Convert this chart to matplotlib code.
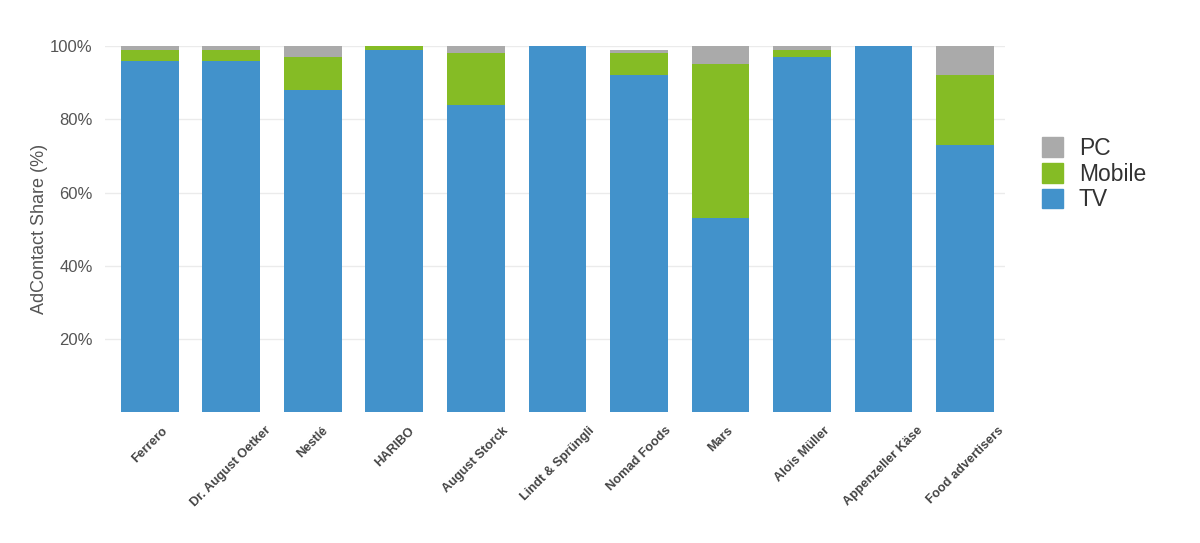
import numpy as np
import matplotlib.pyplot as plt
from matplotlib.patches import Patch

plt.rcParams['font.family'] = ['Liberation Sans', 'DejaVu Sans']

# dados
advertisers = ['Ferrero', 'Dr. August Oetker', 'Nestlé', 'HARIBO', 'August Storck',
               'Lindt & Sprüngli', 'Nomad Foods', 'Mars', 'Alois Müller',
               'Appenzeller Käse', 'Food advertisers']
tv = [96, 96, 88, 99, 84, 100, 92, 53, 97, 100, 73]
mobile = [3, 3, 9, 1, 14, 0, 6, 42, 2, 0, 19]
pc = [1, 1, 3, 0, 2, 0, 1, 5, 1, 0, 8]

c_tv = '#4292cb'
c_mobile = '#85bc25'
c_pc = '#aaaaaa'

fig = plt.figure(figsize=(12, 5.43), dpi=100)
ax = fig.add_axes([0.0875, 0.241, 0.75, 0.674])

x = np.arange(len(advertisers))
w = 0.71
tv_a = np.array(tv)
mob_a = np.array(mobile)
pc_a = np.array(pc)
ax.bar(x, tv_a, w, color=c_tv, zorder=2)
ax.bar(x, mob_a, w, bottom=tv_a, color=c_mobile, zorder=2)
ax.bar(x, pc_a, w, bottom=tv_a + mob_a, color=c_pc, zorder=2)

ax.set_xlim(-0.55, len(advertisers) - 0.51)
ax.set_ylim(0, 100)
ax.set_yticks([20, 40, 60, 80, 100])
ax.set_yticklabels(['20%', '40%', '60%', '80%', '100%'])
ax.yaxis.grid(True, color='#ebebeb', linewidth=1, zorder=0)
for s in ax.spines.values():
    s.set_visible(False)
ax.tick_params(axis='both', length=0)
ax.tick_params(axis='y', labelsize=12, labelcolor='#555555', pad=9)

# rótulos centrados no meio da barra após a rotação
ax.set_xticks(x)
ax.set_xticklabels(advertisers, rotation=45, ha='center', va='top',
                   fontsize=9.2, fontweight='bold', color='#444444')
ax.tick_params(axis='x', pad=9)

ax.set_ylabel('AdContact Share (%)', fontsize=13, color='#555555', labelpad=1)

handles = [Patch(color=c_pc, label='PC'),
           Patch(color=c_mobile, label='Mobile'),
           Patch(color=c_tv, label='TV')]
fig.legend(handles=handles, loc='upper left', bbox_to_anchor=(0.8605, 0.765),
           frameon=False, fontsize=16.5, handlelength=0.92, handleheight=0.95,
           handletextpad=0.7, labelspacing=0.12, labelcolor='#333333',
           borderaxespad=0)

fig.savefig('out.png', dpi=100)
